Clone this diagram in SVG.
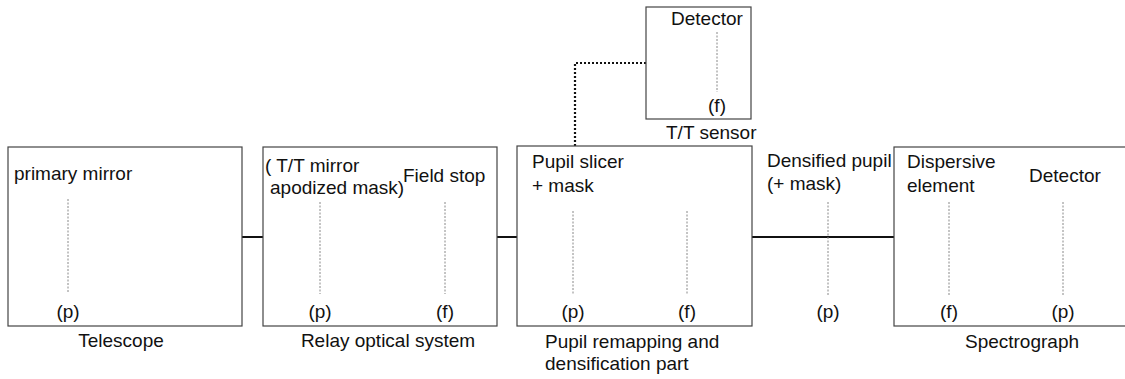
<svg xmlns="http://www.w3.org/2000/svg" width="1125" height="379" viewBox="0 0 1125 379">
<style>
text{font-family:"Liberation Sans",Arial,sans-serif;font-size:19px;fill:#111}
.box{fill:#fff;stroke:#444;stroke-width:1.2}
.axis{stroke:#888;stroke-width:1;stroke-dasharray:2,1.5}
.conn{stroke:#111;stroke-width:2;fill:none}
.dot{stroke:#111;stroke-width:2.2;stroke-dasharray:2,2;fill:none}
.m{text-anchor:middle}
</style>
<rect width="1125" height="379" fill="#fff"/>
<g id="connectors">
<line class="conn" x1="242" y1="237" x2="263" y2="237"/>
<line class="conn" x1="497" y1="237" x2="517" y2="237"/>
<line class="conn" x1="752" y1="237" x2="894" y2="237"/>
<polyline class="dot" points="575,146 575,63 646,63"/>
</g>
<g id="telescope">
<rect class="box" x="8" y="147" width="234" height="179"/>
<text x="14" y="180">primary mirror</text>
<line class="axis" x1="68" y1="199" x2="68" y2="292"/>
<text class="m" x="68" y="318">(p)</text>
<text class="m" x="121" y="347">Telescope</text>
</g>
<g id="relay">
<rect class="box" x="263" y="147" width="234" height="179"/>
<text x="265" y="172">( T/T mirror</text>
<text x="270" y="194">apodized mask)</text>
<text x="403" y="182">Field stop</text>
<line class="axis" x1="320" y1="202" x2="320" y2="294"/>
<line class="axis" x1="445" y1="202" x2="445" y2="294"/>
<text class="m" x="320" y="318">(p)</text>
<text class="m" x="445" y="318">(f)</text>
<text class="m" x="388" y="347">Relay optical system</text>
</g>
<g id="pupil">
<rect class="box" x="517" y="146" width="235" height="180"/>
<text x="532" y="168">Pupil slicer</text>
<text x="532" y="192">+ mask</text>
<line class="axis" x1="573" y1="211" x2="573" y2="295"/>
<line class="axis" x1="687" y1="211" x2="687" y2="295"/>
<text class="m" x="573" y="318">(p)</text>
<text class="m" x="687" y="318">(f)</text>
<text x="545" y="348">Pupil remapping and</text>
<text x="545" y="370">densification part</text>
</g>
<g id="tt-sensor">
<rect class="box" x="646" y="7" width="105" height="112"/>
<text x="671" y="25">Detector</text>
<line class="axis" x1="717" y1="32" x2="717" y2="92"/>
<text class="m" x="717" y="112">(f)</text>
<text x="666" y="139">T/T sensor</text>
</g>
<g id="densified">
<text x="767" y="167">Densified pupil</text>
<text x="767" y="190">(+ mask)</text>
<line class="axis" x1="828" y1="202" x2="828" y2="295"/>
<text class="m" x="828" y="318">(p)</text>
</g>
<g id="spectrograph">
<rect class="box" x="894" y="147" width="240" height="179"/>
<text x="907" y="168">Dispersive</text>
<text x="907" y="192">element</text>
<text x="1029" y="182">Detector</text>
<line class="axis" x1="949" y1="202" x2="949" y2="295"/>
<line class="axis" x1="1063" y1="202" x2="1063" y2="295"/>
<text class="m" x="949" y="318">(f)</text>
<text class="m" x="1063" y="318">(p)</text>
<text class="m" x="1022" y="348">Spectrograph</text>
</g>
</svg>
